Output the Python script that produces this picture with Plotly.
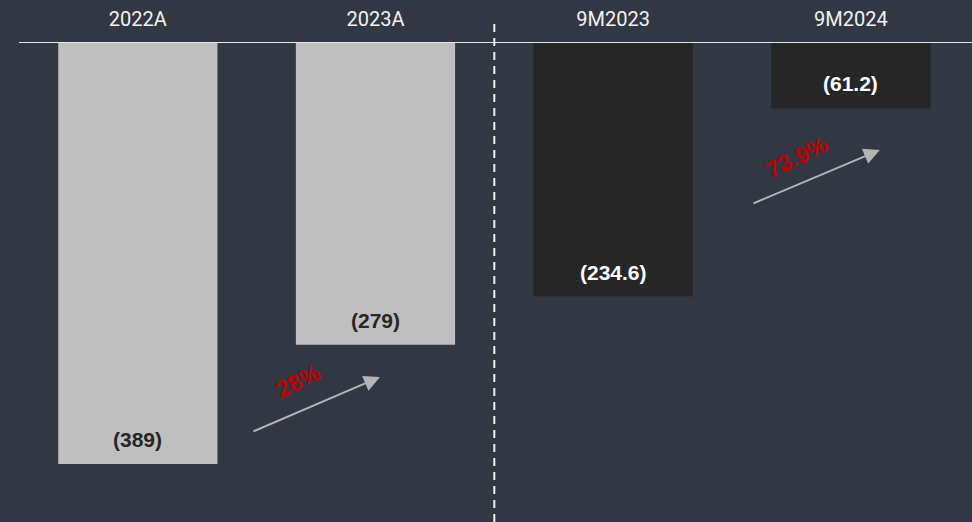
import plotly.graph_objects as go

# Net loss by period (in millions), shown as bars hanging from the zero line
categories = ["2022A", "2023A", "9M2023", "9M2024"]
net_loss = [389, 279, 234.6, 61.2]
value_labels = ["(389)", "(279)", "(234.6)", "(61.2)"]
bar_colors = ["#bfbfbf", "#bfbfbf", "#262626", "#262626"]
label_colors = ["#262626", "#262626", "#ffffff", "#ffffff"]

# Improvement annotations between periods
change_labels = ["28%", "73.9%"]

BG = "#323843"
x_idx = list(range(len(categories)))
y_vals = [-v for v in net_loss]

fig = go.Figure()
fig.add_trace(go.Bar(
    x=x_idx,
    y=y_vals,
    width=0.67,
    marker=dict(color=bar_colors, line=dict(width=0)),
    hoverinfo="skip",
    showlegend=False,
))

annotations = []
# value labels placed just inside the bottom of each bar
for xi, v, txt, col in zip(x_idx, y_vals, value_labels, label_colors):
    annotations.append(dict(
        x=xi, y=v, xref="x", yref="y", text=txt, showarrow=False,
        yanchor="bottom", yshift=11,
        font=dict(family="Liberation Sans, Arial", size=21, color=col, weight="bold"),
    ))

# arrows with rotated percentage labels
arrows = [
    dict(x0=0.480, y0=-359.4, x1=1.019, y1=-308.8, tx=0.672, ty=-312.5),
    dict(x0=2.584, y0=-149.3, x1=3.122, y1=-99.5, tx=2.771, ty=-106.0),
]
for a, lab in zip(arrows, change_labels):
    annotations.append(dict(
        x=a["x1"], y=a["y1"], ax=a["x0"], ay=a["y0"],
        xref="x", yref="y", axref="x", ayref="y",
        text="", showarrow=True, arrowhead=2, arrowsize=1.6,
        arrowwidth=2, arrowcolor="#b4b4b4",
    ))
    annotations.append(dict(
        x=a["tx"], y=a["ty"], xref="x", yref="y", text=lab, showarrow=False,
        textangle=-26,
        font=dict(family="Liberation Sans, Arial", size=23, color="#c00000", weight="bold"),
    ))

shapes = [
    # zero line across the top
    dict(type="line", xref="paper", yref="y", x0=0, x1=1, y0=0, y1=0,
         line=dict(color="#e6e6e6", width=2)),
    # dashed divider between annual and nine-month figures
    dict(type="line", xref="x", yref="paper", x0=1.5, x1=1.5, y0=0, y1=1.038,
         line=dict(color="#f0f0f0", width=2, dash="8px,6px")),
]

fig.update_layout(
    width=972, height=522,
    margin=dict(l=19, r=0, t=42, b=0),
    paper_bgcolor=BG, plot_bgcolor=BG,
    bargap=0.33,
    annotations=annotations,
    shapes=shapes,
    xaxis=dict(
        side="top", range=[-0.5, 3.51],
        tickmode="array", tickvals=x_idx, ticktext=categories,
        tickfont=dict(family="Roboto", size=20, color="#f2f2f2"),
        ticks="", ticklabelstandoff=11,
        showgrid=False, zeroline=False, showline=False, fixedrange=True,
    ),
    yaxis=dict(
        range=[-442.4, 0], visible=False, showgrid=False, zeroline=False, fixedrange=True,
    ),
)

fig.write_html("out.html")
